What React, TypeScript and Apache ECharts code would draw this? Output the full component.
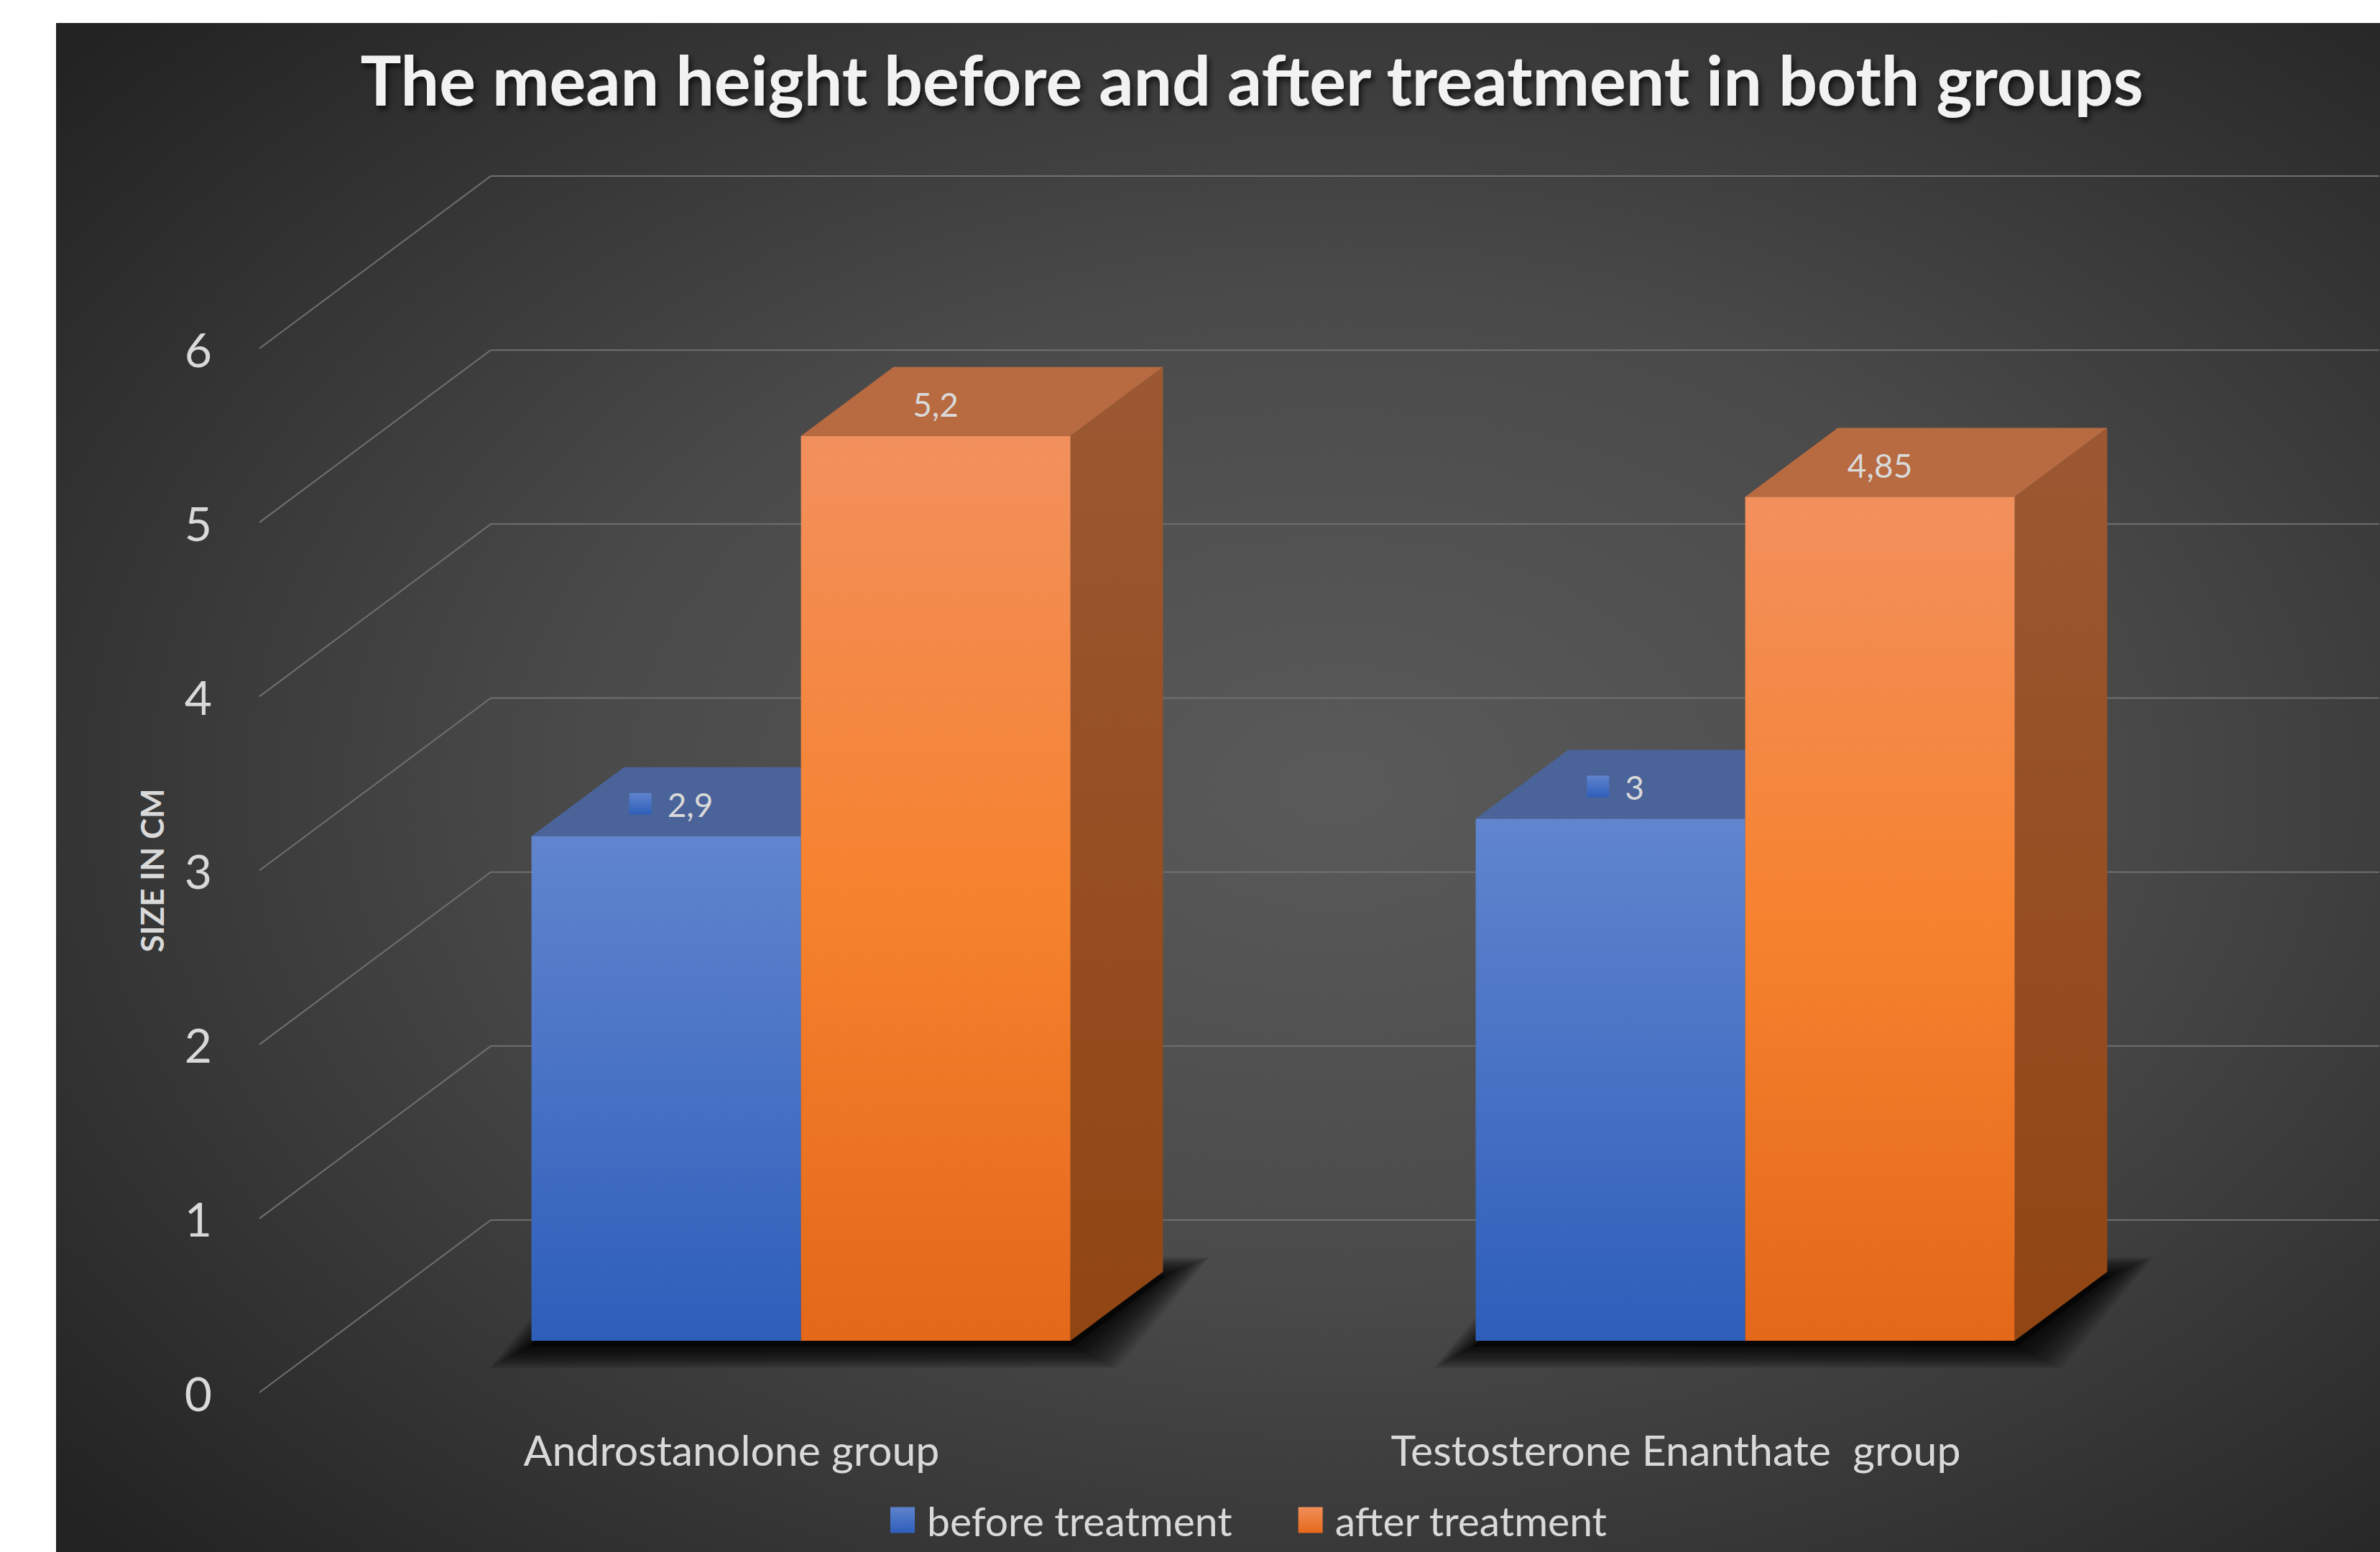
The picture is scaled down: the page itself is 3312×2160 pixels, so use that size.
import React, { useEffect, useRef } from 'react';
import * as echarts from 'echarts';

// ---------- data ----------
const categories = ['Androstanolone group', 'Testosterone Enanthate  group'];
const seriesNames = ['before treatment', 'after treatment'];
const beforeValues = [2.9, 3];
const afterValues = [5.2, 4.85];
const yTicks = [0, 1, 2, 3, 4, 5, 6];
const titleText = 'The mean height before and after treatment in both groups';
const yAxisTitle = 'SIZE IN CM';

// ---------- layout / style ----------
const W = 3312;
const H = 2160;
const FONT = 'Lato, "Open Sans", sans-serif';
const DX = 322; // depth vector front -> back wall
const DY = -240;
const F1 = 0.3; // bar front depth fraction
const F2 = 0.7; // bar back depth fraction
const BAR_FRAC = 0.2854; // bar width / category band
const TEXT = '#d9d9d9';
const GRIDLINE = '#707070';

const fmt = (v: number) => String(v).replace('.', ',');
const lg = (stops: { offset: number; color: string }[]) =>
  new echarts.graphic.LinearGradient(0, 0, 0, 1, stops);

let measureCtx: CanvasRenderingContext2D | null = null;
const measure = (s: string, font: string) => {
  if (!measureCtx) measureCtx = document.createElement('canvas').getContext('2d');
  if (!measureCtx) return s.length * 25;
  measureCtx.font = font;
  return measureCtx.measureText(s).width;
};

const palettes = [
  {
    front: () => lg([{ offset: 0, color: '#6185ce' }, { offset: 1, color: '#2d5eba' }]),
    top: '#4a6399',
    side: () => '#2f4f8f',
    icon: () => lg([{ offset: 0, color: '#5f83cd' }, { offset: 1, color: '#2e5fbb' }]),
  },
  {
    front: () =>
      lg([
        { offset: 0, color: '#f2905d' },
        { offset: 0.5, color: '#f6822f' },
        { offset: 1, color: '#e3681a' },
      ]),
    top: '#b86a40',
    side: () => lg([{ offset: 0, color: '#9b5832' }, { offset: 1, color: '#914513' }]),
    icon: () => lg([{ offset: 0, color: '#f28e5a' }, { offset: 1, color: '#e5691a' }]),
  },
];

const LABEL_SIZE = 46;

const makeBarRender = (side: number) => (params: any, api: any) => {
  const idx = api.value(0);
  const val = api.value(1);
  const top = api.coord([idx, val]);
  const base = api.coord([idx, 0]);
  const band = api.size([1, 0])[0];
  const w = band * BAR_FRAC;
  const xa = side === 0 ? top[0] - w : top[0];
  const xb = xa + w;
  const o1x = DX * F1, o1y = DY * F1, o2x = DX * F2, o2y = DY * F2;
  const yt = top[1];
  const yb = base[1];
  const pal = palettes[side];
  const children: any[] = [
    {
      type: 'polygon',
      shape: { points: [[xb + o1x, yt + o1y], [xb + o2x, yt + o2y], [xb + o2x, yb + o2y], [xb + o1x, yb + o1y]] },
      style: { fill: pal.side() },
    },
    {
      type: 'polygon',
      shape: { points: [[xa + o1x, yt + o1y], [xb + o1x, yt + o1y], [xb + o2x, yt + o2y], [xa + o2x, yt + o2y]] },
      style: { fill: pal.top },
    },
    {
      type: 'rect',
      shape: { x: xa + o1x, y: yt + o1y, width: w, height: yb - yt },
      style: { fill: pal.front() },
    },
  ];
  const lx = (xa + xb) / 2 + o1x;
  const ly = yt + (o1y + o2y) / 2 + 4;
  const txt = fmt(val);
  const font = `${LABEL_SIZE}px ${FONT}`;
  if (side === 0) {
    const tw = measure(txt, font);
    const keyW = 31, gap = 22;
    const total = keyW + gap + tw;
    const start = lx + 7 - total / 2;
    children.push({
      type: 'rect',
      shape: { x: start, y: ly - 16, width: keyW, height: 30 },
      style: { fill: pal.icon() },
    });
    children.push({
      type: 'text',
      style: {
        text: txt, x: start + keyW + gap, y: ly, fill: TEXT,
        font, textAlign: 'left', textVerticalAlign: 'middle',
      },
    });
  } else {
    children.push({
      type: 'text',
      style: { text: txt, x: lx, y: ly, fill: TEXT, font, textAlign: 'center', textVerticalAlign: 'middle' },
    });
  }
  return { type: 'group', children };
};

const renderGridLine = (params: any, api: any) => {
  const v = api.value(1);
  const p = api.coord([0, v]);
  const cs = params.coordSys;
  const y = p[1];
  return {
    type: 'polyline',
    shape: { points: [[cs.x, y], [cs.x + DX, y + DY], [cs.x + cs.width + DX, y + DY]] },
    style: { stroke: GRIDLINE, lineWidth: 2, fill: 'none' },
  };
};

// soft floor shadow built from stacked translucent footprints
const renderShadow = (params: any, api: any) => {
  const idx = api.value(0);
  const base = api.coord([idx, 0]);
  const band = api.size([1, 0])[0];
  const w = band * BAR_FRAC;
  const xa = base[0] - w, xb = base[0] + w;
  const o1x = DX * F1, o1y = DY * F1, o2x = DX * F2, o2y = DY * F2;
  const yb = base[1] + 6;
  const layers: any[] = [];
  const N = 22;
  for (let k = 0; k < N; k++) {
    const e = (N - k) * 2.7;
    const l = e, r = e * 1.1, d = e * 0.55, u = e * 0.45;
    layers.push({
      type: 'polygon',
      shape: {
        points: [
          [xa + o1x - l, yb + o1y + d],
          [xb + o1x + r, yb + o1y + d],
          [xb + o2x + r, yb + o2y - u],
          [xa + o2x - l, yb + o2y - u],
        ],
      },
      style: { fill: 'rgba(0,0,0,0.06)' },
    });
  }
  layers.push({
    type: 'polygon',
    shape: {
      points: [[xa + o1x - 4, yb + o1y + 2], [xb + o1x + 4, yb + o1y + 2], [xb + o2x + 4, yb + o2y], [xa + o2x - 4, yb + o2y]],
    },
    style: { fill: 'rgba(0,0,0,0.5)' },
  });
  return { type: 'group', children: layers };
};

export default function App() {
  const ref = useRef<HTMLDivElement>(null);
  useEffect(() => {
    if (!ref.current) return;
    const chart = echarts.init(ref.current, null, { renderer: 'svg', width: W, height: H });
    const option: any = {
      animation: false,
      backgroundColor: '#ffffff',
      textStyle: { fontFamily: FONT },
      graphic: [
        {
          type: 'rect',
          z: -100,
          silent: true,
          shape: { x: 78, y: 32, width: W - 78, height: H - 32 },
          style: {
            fill: new echarts.graphic.RadialGradient(0.55, 0.5, 0.72, [
              { offset: 0, color: '#5a5a5a' },
              { offset: 0.45, color: '#4a4a4a' },
              { offset: 1, color: '#232323' },
            ]),
          },
        },
        {
          type: 'text',
          z: 10,
          silent: true,
          style: {
            text: titleText,
            x: 1742,
            y: 110,
            textAlign: 'center',
            textVerticalAlign: 'middle',
            fill: '#f2f2f2',
            font: `bold 95px ${FONT}`,
            textShadowColor: 'rgba(0,0,0,0.75)',
            textShadowBlur: 8,
            textShadowOffsetX: 3,
            textShadowOffsetY: 5,
          },
        },
      ],
      grid: { left: 361, top: 485, width: 2628, height: 1453, containLabel: false },
      xAxis: {
        type: 'category',
        data: categories,
        axisLine: { show: false },
        axisTick: { show: false },
        splitLine: { show: false },
        axisLabel: { interval: 0, fontSize: 59, lineHeight: 59, color: TEXT, margin: 50, fontFamily: FONT },
      },
      yAxis: {
        type: 'value',
        min: 0,
        max: 6,
        interval: 1,
        axisLine: { show: false },
        axisTick: { show: false },
        splitLine: { show: false },
        axisLabel: { fontSize: 66, color: TEXT, margin: 66, fontFamily: FONT },
        name: yAxisTitle,
        nameLocation: 'middle',
        nameRotate: 90,
        nameGap: 128,
        nameTextStyle: { fontSize: 44, fontWeight: 'bold', color: TEXT, fontFamily: FONT },
      },
      legend: {
        left: 1234,
        top: 2082,
        itemWidth: 34,
        itemHeight: 36,
        itemGap: 92,
        icon: 'rect',
        selectedMode: false,
        textStyle: { fontSize: 57, lineHeight: 56, color: TEXT, fontFamily: FONT, padding: [0, 0, 0, 12] },
        data: seriesNames.map((n, i) => ({ name: n, itemStyle: { color: palettes[i].icon() } })),
      },
      series: [
        {
          type: 'custom',
          name: 'grid3d',
          renderItem: renderGridLine,
          data: yTicks.map((v) => [0, v]),
          encode: { x: 0, y: 1 },
          silent: true,
          z: 1,
        },
        {
          type: 'custom',
          name: 'shadow',
          renderItem: renderShadow,
          data: categories.map((_, i) => [i, 0]),
          encode: { x: 0, y: 1 },
          silent: true,
          z: 2,
        },
        {
          type: 'custom',
          name: seriesNames[0],
          renderItem: makeBarRender(0),
          data: beforeValues.map((v, i) => [i, v]),
          encode: { x: 0, y: 1 },
          itemStyle: { color: palettes[0].icon() },
          z: 3,
        },
        {
          type: 'custom',
          name: seriesNames[1],
          renderItem: makeBarRender(1),
          data: afterValues.map((v, i) => [i, v]),
          encode: { x: 0, y: 1 },
          itemStyle: { color: palettes[1].icon() },
          z: 4,
        },
      ],
    };
    chart.setOption(option);
    return () => chart.dispose();
  }, []);
  return <div ref={ref} style={{ position: 'absolute', left: 0, top: 0, width: W, height: H }} />;
}
